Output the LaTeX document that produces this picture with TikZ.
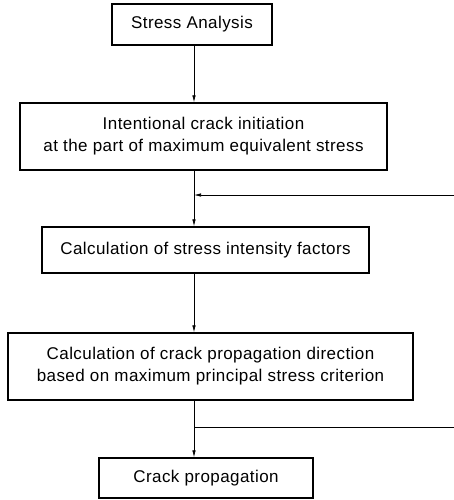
\documentclass[tikz,border=0pt]{standalone}
\usepackage{fontspec}
\setmainfont{Liberation Sans}[LetterSpace=2.5]
\usepackage{tikz}
\tikzset{
stage/.style={draw, line width=1.3pt, align=center, inner sep=0pt, font=\fontsize{17}{22}\selectfont},
flow/.style={-{Latex[length=7pt, width=3.5pt]}, line width=0.7pt},
back/.style={line width=0.7pt}
}
\usetikzlibrary{arrows.meta, positioning}

\begin{document}
\begin{tikzpicture}[x=1pt, y=-1pt]
			\useasboundingbox (0,0) rectangle (454,500);
			\node[stage, minimum width=160, minimum height=41] (sa) at (192,24.5) {Stress Analysis};
			\node[stage, minimum width=367, minimum height=67] (init) at (203.5,136.5)
			{Intentional crack initiation\\at the part of maximum equivalent stress};
			\node[stage, minimum width=327, minimum height=46] (sif) at (205.5,250) {Calculation of stress intensity factors};
			\node[stage, minimum width=405, minimum height=67] (dir) at (210.5,366.5)
			{Calculation of crack propagation direction\\based on maximum principal stress criterion};
			\node[stage, minimum width=214, minimum height=40] (prop) at (206,478) {Crack propagation};
			% ----
			\coordinate (fb) at (194,195);
			\coordinate (fbe) at (454,195);
			\coordinate (br) at (194,427);
			\coordinate (bre) at (454,427);
			% ----
			\draw[flow] (sa.south -| fb) -- (init.north -| fb);
			\draw[flow] (init.south -| fb) -- (sif.north -| fb);
			\draw[flow] (sif.south -| fb) -- (dir.north -| fb);
			\draw[flow] (dir.south -| fb) -- (prop.north -| fb);
			\draw[flow] (fbe) -- (fb);
			\draw[back] (br) -- (bre);
		\end{tikzpicture}
\end{document}
